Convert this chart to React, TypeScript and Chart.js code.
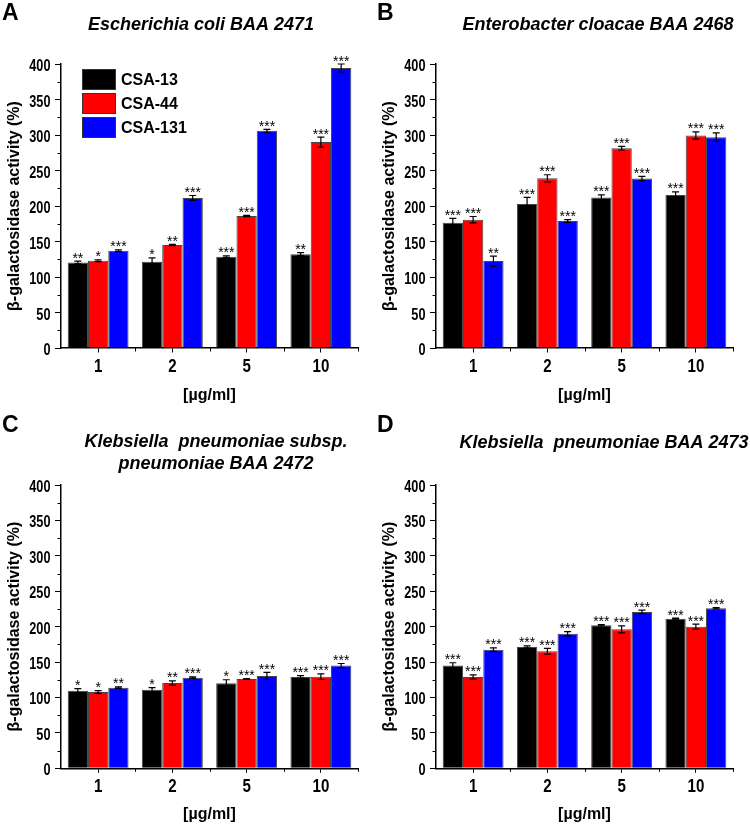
import React, { useEffect, useRef } from 'react';
import { Chart, registerables } from 'chart.js';
Chart.register(...registerables);

const CATEGORIES = ['1', '2', '5', '10'];
const SERIES = ['CSA-13', 'CSA-44', 'CSA-131'];
const COLORS = ['#000000', '#ff0000', '#0000ff'];
const Y_MIN = 0;
const Y_MAX = 400;
const Y_STEP = 50;
const Y_LABEL = 'β-galactosidase activity (%)';
const X_LABEL = '[µg/ml]';

// Panel A – Escherichia coli BAA 2471
const A_CSA13 = [120.5, 121.4, 128.5, 132.2];
const A_CSA44 = [122.8, 145.0, 185.9, 290.0];
const A_CSA131 = [137.0, 211.3, 305.9, 394.4];
const A_ERR13 = [2, 5.5, 1.2, 2];
const A_ERR44 = [1.2, 1, 1, 7];
const A_ERR131 = [1.2, 3.5, 2, 5.6];
const A_SIG13 = ['**', '*', '***', '**'];
const A_SIG44 = ['*', '**', '***', '***'];
const A_SIG131 = ['***', '***', '***', '***'];

// Panel B – Enterobacter cloacae BAA 2468
const B_CSA13 = [176.5, 202.8, 211.8, 215.5];
const B_CSA44 = [180.7, 239.0, 281.4, 299.3];
const B_CSA131 = [122.4, 178.8, 238.6, 297.0];
const B_ERR13 = [6, 9.4, 4, 4.5];
const B_ERR44 = [4.5, 5, 2.5, 5];
const B_ERR131 = [7, 2, 3, 6];
const B_SIG13 = ['***', '***', '***', '***'];
const B_SIG44 = ['***', '***', '***', '***'];
const B_SIG131 = ['**', '***', '***', '***'];

// Panel C – Klebsiella pneumoniae subsp. pneumoniae BAA 2472
const C_CSA13 = [109.6, 111.0, 120.0, 128.9];
const C_CSA44 = [107.8, 120.5, 126.1, 129.4];
const C_CSA131 = [113.9, 128.0, 130.4, 145.0];
const C_ERR13 = [3, 3, 5, 2];
const C_ERR44 = [2, 3, 0.6, 4];
const C_ERR131 = [1, 1, 5, 3];
const C_SIG13 = ['*', '*', '*', '***'];
const C_SIG44 = ['*', '**', '***', '***'];
const C_SIG131 = ['**', '***', '***', '***'];

// Panel D – Klebsiella pneumoniae BAA 2473
const D_CSA13 = [145.0, 171.3, 201.9, 211.3];
const D_CSA44 = [129.0, 165.2, 196.2, 200.0];
const D_CSA131 = [167.5, 190.0, 220.7, 225.9];
const D_ERR13 = [4, 1.5, 1, 0.6];
const D_ERR44 = [3, 4, 5, 3.5];
const D_ERR131 = [2.5, 3, 2.5, 1];
const D_SIG13 = ['***', '***', '***', '***'];
const D_SIG44 = ['***', '***', '***', '***'];
const D_SIG131 = ['***', '***', '***', '***'];

const FONT = '"Liberation Sans", Arial, Helvetica, sans-serif';

type Panel = {
  letter: string;
  title: string[];
  titleX: number;
  titleY: number[];
  letterY: number;
  left: number;
  top: number;
  height: number;
  padTop: number;
  padBottom: number;
  xHeight: number;
  legend: boolean;
  values: number[][];
  errors: number[][];
  sig: string[][];
};

const PANELS: Panel[] = [
  {
    letter: 'A', title: ['Escherichia coli BAA 2471'], titleX: 201, titleY: [25], letterY: 20,
    left: 0, top: 0, height: 405, padTop: 64, padBottom: 0, xHeight: 57, legend: true,
    values: [A_CSA13, A_CSA44, A_CSA131], errors: [A_ERR13, A_ERR44, A_ERR131], sig: [A_SIG13, A_SIG44, A_SIG131],
  },
  {
    letter: 'B', title: ['Enterobacter cloacae BAA 2468'], titleX: 223, titleY: [25], letterY: 20,
    left: 375, top: 0, height: 405, padTop: 64, padBottom: 0, xHeight: 57, legend: false,
    values: [B_CSA13, B_CSA44, B_CSA131], errors: [B_ERR13, B_ERR44, B_ERR131], sig: [B_SIG13, B_SIG44, B_SIG131],
  },
  {
    letter: 'C', title: ['Klebsiella  pneumoniae subsp.', 'pneumoniae BAA 2472'], titleX: 216, titleY: [42.5, 64.5], letterY: 32,
    left: 0, top: 400, height: 428, padTop: 85, padBottom: 3.5, xHeight: 56.2, legend: false,
    values: [C_CSA13, C_CSA44, C_CSA131], errors: [C_ERR13, C_ERR44, C_ERR131], sig: [C_SIG13, C_SIG44, C_SIG131],
  },
  {
    letter: 'D', title: ['Klebsiella  pneumoniae BAA 2473'], titleX: 229, titleY: [43], letterY: 32,
    left: 375, top: 400, height: 428, padTop: 85, padBottom: 3.5, xHeight: 56.2, legend: false,
    values: [D_CSA13, D_CSA44, D_CSA131], errors: [D_ERR13, D_ERR44, D_ERR131], sig: [D_SIG13, D_SIG44, D_SIG131],
  },
];

function drawCondensed(ctx: any, text: string, x: number, y: number, sx: number, align: string) {
  ctx.save();
  ctx.translate(x, y);
  ctx.scale(sx, 1);
  ctx.textAlign = align;
  ctx.textBaseline = 'alphabetic';
  ctx.fillText(text, 0, 0);
  ctx.restore();
}

function makePlugin(panel: Panel) {
  return {
    id: 'decor' + panel.letter,
    afterDatasetsDraw(chart: any) {
      const ctx = chart.ctx;
      const yScale = chart.scales.y;
      const xScale = chart.scales.x;
      const area = chart.chartArea;
      ctx.save();
      ctx.font = '14px ' + FONT;
      const m = ctx.measureText('*');
      const starDescent = isFinite(m.actualBoundingBoxDescent) ? m.actualBoundingBoxDescent : -5;
      // error bars and significance stars
      chart.data.datasets.forEach((ds: any, i: number) => {
        const meta = chart.getDatasetMeta(i);
        meta.data.forEach((bar: any, j: number) => {
          const v = ds.data[j];
          const e = panel.errors[i][j];
          const x = bar.x;
          const yt = yScale.getPixelForValue(v + e);
          const yb = yScale.getPixelForValue(v - e);
          ctx.strokeStyle = '#000';
          ctx.lineWidth = 1.2;
          ctx.beginPath();
          ctx.moveTo(x, yt); ctx.lineTo(x, yb);
          ctx.moveTo(x - 3.5, yt); ctx.lineTo(x + 3.5, yt);
          ctx.moveTo(x - 3.5, yb); ctx.lineTo(x + 3.5, yb);
          ctx.stroke();
          ctx.fillStyle = '#000';
          ctx.font = '14px ' + FONT;
          ctx.textAlign = 'center';
          ctx.textBaseline = 'alphabetic';
          ctx.fillText(panel.sig[i][j], x, yt - 2.5 - starDescent);
        });
      });
      // minor y ticks
      ctx.strokeStyle = '#000';
      ctx.lineWidth = 1;
      ctx.beginPath();
      for (let v = Y_MIN + Y_STEP / 2; v < Y_MAX; v += Y_STEP) {
        const y = Math.round(yScale.getPixelForValue(v)) + 0.5;
        ctx.moveTo(area.left - 3.5, y); ctx.lineTo(area.left, y);
      }
      // minor x ticks at category boundaries
      for (let k = 0; k < CATEGORIES.length; k++) {
        const x = k < CATEGORIES.length - 1
          ? (xScale.getPixelForValue(k) + xScale.getPixelForValue(k + 1)) / 2
          : area.right;
        const xr = Math.round(x) + 0.5;
        ctx.moveTo(xr, area.bottom); ctx.lineTo(xr, area.bottom + 3.5);
      }
      ctx.stroke();
      // tick labels (bold, condensed like Arial Narrow)
      ctx.fillStyle = '#000';
      ctx.font = 'bold 16.5px ' + FONT;
      const capY = ctx.measureText('0').actualBoundingBoxAscent || 11.8;
      yScale.ticks.forEach((t: any) => {
        const y = yScale.getPixelForValue(t.value);
        drawCondensed(ctx, String(t.label), area.left - 10.5, y + capY / 2 + 1, 0.77, 'right');
      });
      ctx.font = 'bold 18px ' + FONT;
      const capX = ctx.measureText('0').actualBoundingBoxAscent || 12.9;
      CATEGORIES.forEach((c, k) => {
        const x = xScale.getPixelForValue(k);
        drawCondensed(ctx, c, x, area.bottom + 17.6 + capX / 2, 0.84, 'center');
      });
      // panel letter and title
      ctx.fillStyle = '#000';
      ctx.textAlign = 'left';
      ctx.textBaseline = 'alphabetic';
      ctx.font = 'bold 23px ' + FONT;
      ctx.fillText(panel.letter, 2, panel.letterY);
      ctx.textAlign = 'center';
      ctx.textBaseline = 'middle';
      ctx.font = 'italic bold 18px ' + FONT;
      panel.title.forEach((t, k) => ctx.fillText(t, panel.titleX, panel.titleY[k]));
      // legend
      if (panel.legend) {
        chart.data.datasets.forEach((ds: any, i: number) => {
          const bx = 82, by = 69 + i * 24, bw = 34, bh = 21;
          ctx.fillStyle = ds.backgroundColor;
          ctx.fillRect(bx, by, bw, bh);
          ctx.strokeStyle = '#333';
          ctx.lineWidth = 1;
          ctx.strokeRect(bx + 0.5, by + 0.5, bw - 1, bh - 1);
          ctx.fillStyle = '#000';
          ctx.textAlign = 'left';
          ctx.textBaseline = 'middle';
          ctx.font = 'bold 16px ' + FONT;
          ctx.fillText(ds.label, bx + bw + 5, by + bh / 2 + 1);
        });
      }
      ctx.restore();
    },
  };
}

function PanelChart({ panel }: { panel: Panel }) {
  const ref = useRef<HTMLCanvasElement | null>(null);
  useEffect(() => {
    if (!ref.current) return;
    const chart = new Chart(ref.current, {
      type: 'bar',
      data: {
        labels: CATEGORIES,
        datasets: SERIES.map((s, i) => ({
          label: s,
          data: panel.values[i],
          backgroundColor: COLORS[i],
          borderColor: 'rgba(50,50,50,0.9)',
          borderWidth: 1,
          barPercentage: 1,
          categoryPercentage: 0.82,
        })),
      },
      options: {
        responsive: false,
        animation: false,
        devicePixelRatio: 1,
        layout: { padding: { top: panel.padTop, left: 0, right: 17, bottom: panel.padBottom } },
        plugins: { legend: { display: false }, title: { display: false }, tooltip: { enabled: false } },
        scales: {
          x: {
            grid: { display: true, drawOnChartArea: false, drawTicks: true, tickLength: 4.5, color: '#000', offset: false },
            border: { display: true, color: '#000', width: 1.5 },
            ticks: { display: false },
            title: { display: true, text: X_LABEL, color: '#000', font: { family: FONT, size: 16, weight: 'bold' }, padding: 0 },
            afterFit: (s: any) => { s.height = panel.xHeight; },
          },
          y: {
            min: Y_MIN,
            max: Y_MAX,
            grid: { display: true, drawOnChartArea: false, drawTicks: true, tickLength: 6, color: '#000' },
            border: { display: true, color: '#000', width: 1.5 },
            ticks: { stepSize: Y_STEP, display: false },
            title: { display: true, text: Y_LABEL, color: '#000', font: { family: FONT, size: 16, weight: 'bold' }, padding: { top: 5, bottom: 0 } },
            afterFit: (s: any) => { s.width = 61; },
          },
        },
      },
      plugins: [makePlugin(panel)],
    } as any);
    return () => chart.destroy();
  }, [panel]);
  return (
    <canvas
      ref={ref}
      width={375}
      height={panel.height}
      style={{ position: 'absolute', left: panel.left, top: panel.top, width: 375, height: panel.height }}
    />
  );
}

export default function App() {
  return (
    <div style={{ position: 'absolute', left: 0, top: 0, width: 750, height: 828, background: '#fff', overflow: 'hidden' }}>
      {PANELS.map((p) => (
        <PanelChart key={p.letter} panel={p} />
      ))}
    </div>
  );
}
